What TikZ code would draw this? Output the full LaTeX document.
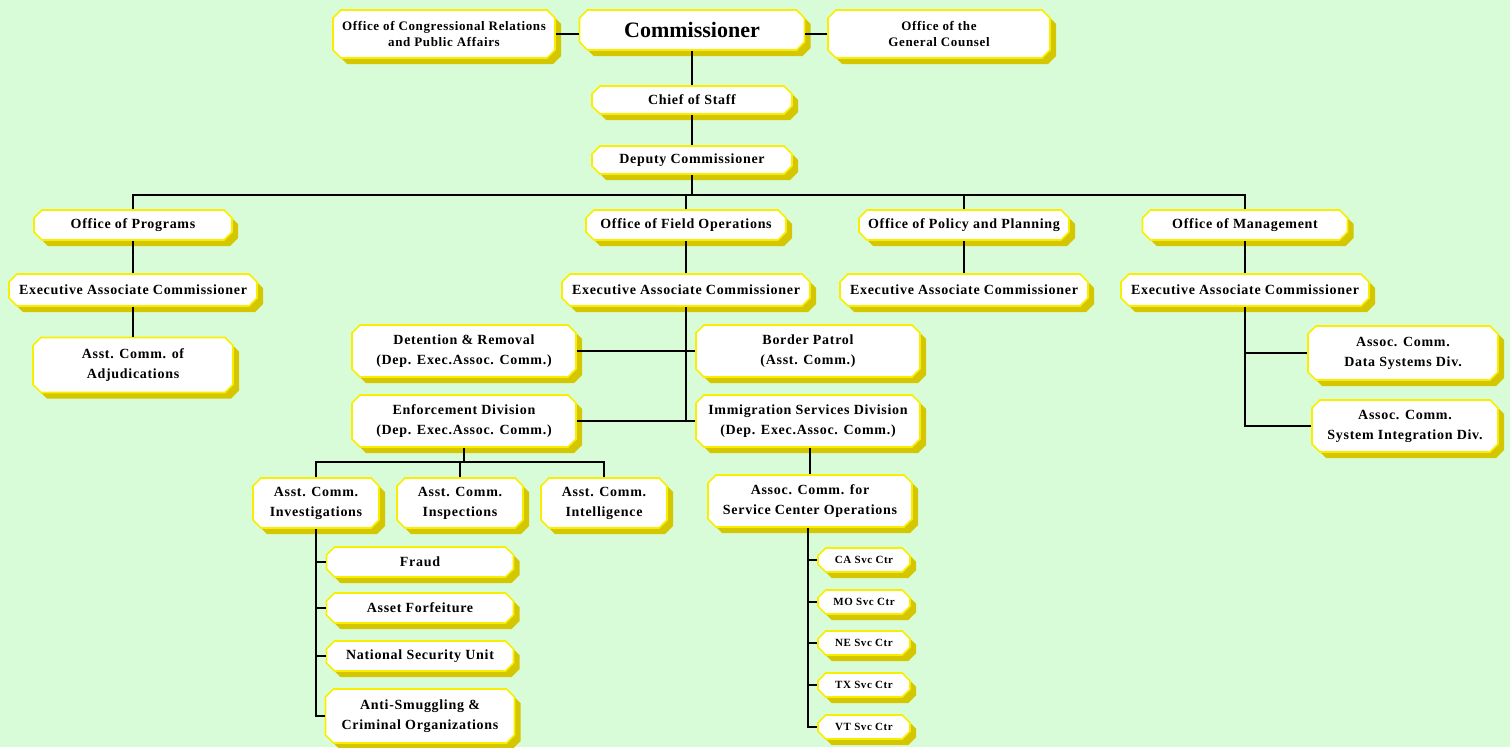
\documentclass[tikz,border=0pt]{standalone}
\usepackage{fontspec}
\setmainfont{Liberation Serif}[LetterSpace=5]
\newfontfamily\titlefont{Liberation Serif}
\usetikzlibrary{positioning,shapes.misc,shadows}

\definecolor{bggreen}{RGB}{216,252,216}
\definecolor{boxedge}{RGB}{250,238,0}
\definecolor{boxshade}{RGB}{212,198,0}

\tikzset{
	box/.style={chamfered rectangle, chamfered rectangle angle=45, chamfered rectangle xsep=4pt, chamfered rectangle ysep=4pt,
		draw=boxedge, line width=1.6pt, fill=white, inner sep=0pt, align=center,
		font=\bfseries\fontsize{14}{20}\selectfont,
		drop shadow={shadow xshift=6pt, shadow yshift=-6pt, fill=boxshade, opacity=1}},
	small/.style={font=\bfseries\fontsize{13}{16}\selectfont},
	tiny/.style={font=\bfseries\fontsize{11}{12}\selectfont},
	link/.style={line width=1.5pt}
}

\begin{document}
\begin{tikzpicture}[x=1pt, y=-1pt]
	\useasboundingbox (0,0) rectangle (1510,747);
	\fill[bggreen] (0,0) rectangle (1510,747);

	% top
	\node[box, minimum width=225pt, minimum height=40pt, font=\titlefont\bfseries\fontsize{22}{24}\selectfont] (comm) at (692,30) {Commissioner};
	\node[box, small, minimum width=222pt, minimum height=48pt] (cong) at (444,34) {Office of Congressional Relations\\and Public Affairs};
	\node[box, small, minimum width=222pt, minimum height=48pt] (gc) at (939,34) {Office of the\\General Counsel};
	\node[box, minimum width=200pt, minimum height=28pt] (chief) at (692,100) {Chief of Staff};
	\node[box, minimum width=200pt, minimum height=28pt] (deputy) at (692,160) {Deputy Commissioner};

	% offices
	\node[box, minimum width=198pt, minimum height=30pt] (prog) at (133,225) {Office of Programs};
	\node[box, minimum width=200pt, minimum height=30pt] (field) at (686,225) {Office of Field Operations};
	\node[box, minimum width=210pt, minimum height=30pt] (policy) at (964,225) {Office of Policy and Planning};
	\node[box, minimum width=205pt, minimum height=30pt] (mgmt) at (1245,225) {Office of Management};
	\foreach \x/\n in {133/eacp,686/eacf,964/eacpp,1245/eacm} {
		\node[box, minimum width=248pt, minimum height=32pt] (\n) at (\x,290) {Executive Associate Commissioner};
	};
	\node[box, minimum width=200pt, minimum height=55pt] (adj) at (133,365) {Asst. Comm. of\\Adjudications};

	% management
	\node[box, minimum width=190pt, minimum height=54pt] (data) at (1403,353) {Assoc. Comm.\\Data Systems Div.};
	\node[box, minimum width=186pt, minimum height=52pt] (integ) at (1405,426) {Assoc. Comm.\\System Integration Div.};

	% field operations
	\node[box, minimum width=224pt, minimum height=52pt] (det) at (464,351) {Detention \& Removal\\(Dep. Exec.Assoc. Comm.)};
	\node[box, minimum width=224pt, minimum height=52pt] (border) at (808,351) {Border Patrol\\(Asst. Comm.)};
	\node[box, minimum width=224pt, minimum height=52pt] (enf) at (464,421) {Enforcement Division\\(Dep. Exec.Assoc. Comm.)};
	\node[box, minimum width=224pt, minimum height=52pt] (isd) at (808,421) {Immigration Services Division\\(Dep. Exec.Assoc. Comm.)};
	\node[box, minimum width=126pt, minimum height=50pt] (inv) at (316,503) {Asst. Comm.\\Investigations};
	\node[box, minimum width=126pt, minimum height=50pt] (insp) at (460,503) {Asst. Comm.\\Inspections};
	\node[box, minimum width=126pt, minimum height=50pt] (intel) at (604,503) {Asst. Comm.\\Intelligence};
	\node[box, minimum width=204pt, minimum height=52pt] (sco) at (810,501) {Assoc. Comm. for\\Service Center Operations};

	\foreach \y/\n/\t in {562/fraud/Fraud,608/asset/Asset Forfeiture,656/nsu/National Security Unit} {
		\node[box, minimum width=187pt, minimum height=30pt] (\n) at (420,\y) {\t};
	};
	\node[box, minimum width=189pt, minimum height=54pt] (anti) at (420,716) {Anti-Smuggling \&\\Criminal Organizations};

	\foreach \y/\n in {560/CA,602/MO,643/NE,685/TX,727/VT} {
		\node[box, tiny, minimum width=92pt, minimum height=24pt] (s\n) at (864,\y) {\n\ Svc Ctr};
	};

	% lines
	\coordinate (bus) at (692,195);
	\coordinate (ebus) at (464,462);
	\draw[link] (cong.east) -- (cong.east -| comm.west);
	\draw[link] (comm.east |- gc.west) -- (gc.west);
	\draw[link] (comm.south) -- (chief.north);
	\draw[link] (chief.south) -- (deputy.north);
	\draw[link] (deputy.south) -- (bus);
	\draw[link] (prog.north) |- (bus) -| (mgmt.north);
	\draw[link] (field.north) -- (field.north |- bus);
	\draw[link] (policy.north) -- (policy.north |- bus);
	\path[draw, link]
		(prog.south) edge (eacp.north)
		(eacp.south) edge (adj.north)
		(field.south) edge (eacf.north)
		(policy.south) edge (eacpp.north)
		(mgmt.south) edge (eacm.north);
	\draw[link] (eacm.south) |- (integ.west);
	\draw[link] (eacm.south |- data.west) -- (data.west);
	\draw[link] (eacf.south) -- (eacf.south |- enf.east);
	\draw[link] (det.east) -- (det.east -| border.west);
	\draw[link] (enf.east) -- (enf.east -| isd.west);
	\draw[link] (enf.south) -- (ebus);
	\draw[link] (inv.north) |- (ebus) -| (intel.north);
	\draw[link] (insp.north) -- (insp.north |- ebus);
	\draw[link] (inv.south) |- (anti.west);
	\foreach \n in {fraud,asset,nsu} {
		\draw[link] (inv.south |- \n.west) -- (\n.west);
	};
	\draw[link] (isd.south -| sco.north) -- (sco.north);
	\draw[link] (sco.south -| isd.south) |- (sVT.west);
	\foreach \n in {CA,MO,NE,TX} {
		\draw[link] (isd.south |- s\n.west) -- (s\n.west);
	};
\end{tikzpicture}
\end{document}
